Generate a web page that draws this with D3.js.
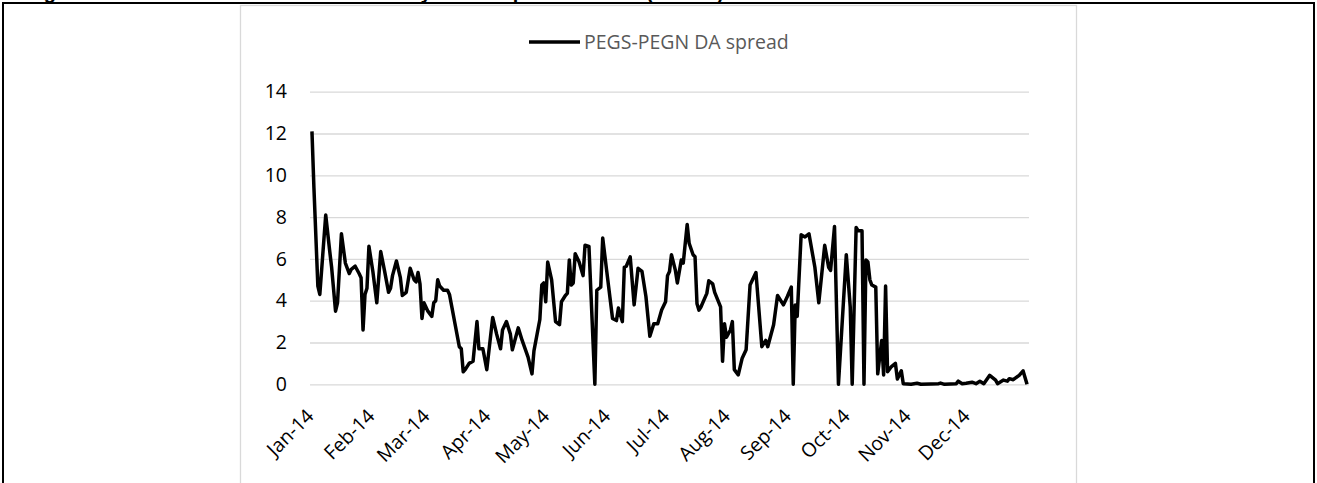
<!DOCTYPE html>
<html>
<head>
<meta charset="utf-8">
<script src="https://cdn.jsdelivr.net/npm/d3@7"></script>
<style>
  body { margin: 0; background: #fff; }
  svg { display: block; }
</style>
</head>
<body>
<div id="chart"></div>
<script>
const title = "Figure 9: Evolution of the PEGS-PEGN day-ahead spread in 2014 (€/MWh)";
const seriesName = "PEGS-PEGN DA spread";

// daily spread (€/MWh)
const dates = [
  "01-01","01-02","01-04","01-05","01-08","01-10","01-11","01-13","01-14","01-16","01-18","01-20","01-21","01-23","01-25","01-26","01-27","01-28","01-29","01-30",
  "02-01","02-03","02-05","02-07","02-09","02-10","02-11","02-13","02-15","02-16","02-18","02-20","02-22","02-23","02-24","02-25","02-26","02-27",
  "03-01","03-03","03-04","03-05","03-06","03-07","03-09","03-11","03-12","03-13","03-15","03-17","03-18","03-19","03-20","03-22","03-24","03-26","03-27","03-29","03-31",
  "04-03","04-05","04-07","04-08","04-10","04-12","04-13","04-16","04-18","04-21","04-23","04-24","04-27","04-28","04-29","04-30",
  "05-01","05-03","05-05","05-07","05-08","05-10","05-11","05-12","05-13","05-14","05-15","05-17","05-19","05-20","05-22","05-25","05-26","05-28","05-29","05-31",
  "06-03","06-05","06-06","06-08","06-09","06-10","06-12","06-14","06-16","06-18","06-20","06-22","06-24","06-26","06-28","06-30",
  "07-01","07-02","07-03","07-05","07-06","07-08","07-09","07-11","07-12","07-14","07-15","07-16","07-17","07-18","07-21","07-22","07-24","07-25","07-28","07-29","07-30","07-31",
  "08-02","08-03","08-04","08-06","08-08","08-10","08-12","08-15","08-18","08-20","08-21","08-24","08-26","08-29","08-31",
  "09-02","09-03","09-04","09-05","09-07","09-09","09-11","09-14","09-16","09-19","09-21","09-22","09-24","09-26","09-30",
  "10-02","10-03","10-05","10-06","10-08","10-09","10-10","10-11","10-12","10-13","10-15","10-16","10-17","10-18","10-19","10-20","10-21","10-23","10-25","10-26","10-28","10-29",
  "11-02","11-05","11-07","11-12","11-16","11-17","11-19","11-25","11-26","11-28","11-30",
  "12-03","12-05","12-07","12-09","12-12","12-15","12-16","12-19","12-21","12-22","12-24","12-27","12-29","12-31"
];
const values = [
  12.1,9.4,4.7,4.3,8.1,6.4,5.6,3.5,3.9,7.2,5.8,5.3,5.5,5.65,5.3,5.1,2.6,4.3,4.6,6.6,
  5.4,3.9,6.35,5.4,4.4,4.6,5.2,5.9,5.1,4.25,4.4,5.55,5.0,4.9,5.35,4.8,3.15,3.9,
  3.5,3.25,3.9,4.0,5.0,4.7,4.5,4.5,4.3,3.8,2.8,1.8,1.7,0.6,0.7,1.0,1.1,3.0,1.7,1.7,0.7,
  3.2,2.4,1.7,2.6,3.0,2.4,1.65,2.7,2.1,1.3,0.5,1.6,3.1,4.75,4.85,3.95,
  5.85,5.0,3.0,2.85,3.95,4.25,4.35,5.95,4.75,4.85,6.25,5.85,5.2,6.65,6.6,0,4.5,4.65,7.0,5.45,
  3.15,3.05,3.65,3.0,5.6,5.65,6.1,3.8,5.55,5.4,4.2,2.3,2.9,2.9,3.55,3.95,
  5.2,5.4,6.2,5.45,4.85,5.95,5.8,7.65,6.75,6.2,6.1,3.85,3.55,3.7,4.35,4.95,4.8,4.4,3.7,1.1,2.9,2.25,
  2.6,3.0,0.7,0.45,1.25,1.65,4.75,5.35,1.8,2.1,1.8,2.85,4.25,3.8,4.2,
  4.65,0,3.8,3.25,7.15,7.05,7.2,5.6,3.9,6.65,5.6,5.45,7.55,0,6.2,
  3.7,0,7.5,7.35,7.35,0,5.95,5.85,5.0,4.75,4.65,0.5,1.3,2.1,0.45,4.7,0.6,0.85,1.0,0.25,0.65,0.03,
  0,0.05,0,0.02,0.03,0.06,0,0.03,0.15,0.03,0.05,
  0.1,0.03,0.15,0.03,0.43,0.2,0.03,0.2,0.15,0.27,0.22,0.43,0.64,0
];
const yTicks = [0, 2, 4, 6, 8, 10, 12, 14];
const monthTicks = ["01-01","02-01","03-01","04-01","05-01","06-01","07-01","08-01","09-01","10-01","11-01","12-01"];

const W = 1317, H = 483;
const plot = { left: 310, right: 1029, top: 91.7, bottom: 384.3 };
const parse = d3.timeParse("%Y-%m-%d");
const fmt = d3.timeFormat("%b-%y");

const data = dates.map((d, i) => ({ date: parse("2014-" + d), value: values[i] }));

const svg = d3.select("#chart").append("svg")
  .attr("width", W)
  .attr("height", H);

// page frame, with the caption above it mostly cut off
svg.append("text")
  .attr("x", 26).attr("y", -1)
  .attr("font-family", "Liberation Sans, Arial, sans-serif")
  .attr("font-weight", "bold")
  .attr("font-size", 20)
  .text(title);
svg.append("path")
  .attr("d", `M3,${H} V3 H1314 V${H}`)
  .attr("fill", "none")
  .attr("stroke", "#000")
  .attr("stroke-width", 2);

// chart area
svg.append("rect")
  .attr("x", 240.5).attr("y", 5.5)
  .attr("width", 836).attr("height", H)
  .attr("fill", "#fff")
  .attr("stroke", "#d9d9d9")
  .attr("stroke-width", 1.3);

const x = d3.scaleTime()
  .domain([parse("2013-12-31"), parse("2015-01-01")])
  .range([plot.left, plot.right]);
const y = d3.scaleLinear()
  .domain([0, 14])
  .range([plot.bottom, plot.top]);

const yAxis = svg.append("g")
  .attr("transform", `translate(${plot.left},0)`)
  .call(d3.axisLeft(y).tickValues(yTicks).tickSize(-(plot.right - plot.left)).tickPadding(23).tickFormat(d3.format("d")));
yAxis.select(".domain").remove();
yAxis.selectAll("line").attr("stroke", "#d9d9d9").attr("stroke-width", 1.3);
yAxis.selectAll("text")
  .attr("fill", "#000")
  .attr("font-family", "Open Sans, sans-serif")
  .attr("font-size", 19.5);

// rotated month labels
svg.append("g")
  .selectAll("text")
  .data(monthTicks.map(m => parse("2014-" + m)))
  .join("text")
  .attr("transform", d => `translate(${x(d) + 3},${plot.bottom + 33}) rotate(-45)`)
  .attr("text-anchor", "end")
  .attr("fill", "#000")
  .attr("font-family", "Open Sans, sans-serif")
  .attr("font-size", 19.5)
  .text(d => fmt(d));

const line = d3.line()
  .x(d => x(d.date))
  .y(d => y(d.value));

svg.append("path")
  .datum(data)
  .attr("d", line)
  .attr("fill", "none")
  .attr("stroke", "#000")
  .attr("stroke-width", 3.5)
  .attr("stroke-linejoin", "round");

// legend
const lg = svg.append("g");
lg.append("line")
  .attr("x1", 529).attr("x2", 580)
  .attr("y1", 42).attr("y2", 42)
  .attr("stroke", "#000")
  .attr("stroke-width", 3.5);
lg.append("text")
  .attr("x", 584).attr("y", 49)
  .attr("fill", "#595959")
  .attr("font-family", "Open Sans, sans-serif")
  .attr("font-size", 19.5)
  .text(seriesName);
</script>
</body>
</html>
